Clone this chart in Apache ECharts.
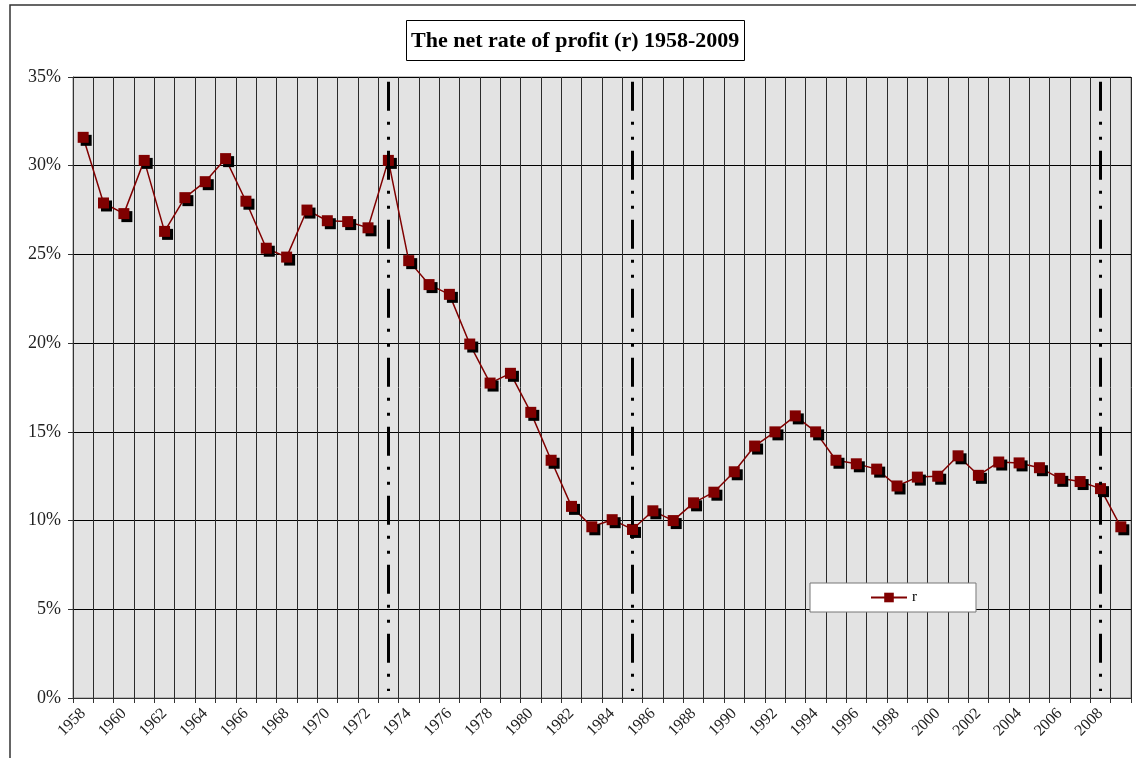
<!DOCTYPE html>
<html>
<head>
<meta charset="utf-8">
<script src="https://cdn.jsdelivr.net/npm/echarts@6/dist/echarts.min.js"></script>
<style>
  html, body { margin: 0; padding: 0; background: #fff; }
  #chart { width: 1136px; height: 758px; }
</style>
</head>
<body>
<div id="chart"></div>
<script>
// 年份
const years = [];
for (let y = 1958; y <= 2009; y++) years.push(String(y));

// 净利润率 r (%)
const rateValues = [
  31.6, 27.9, 27.3, 30.3, 26.3, 28.2, 29.1, 30.4, 28.0, 25.35,
  24.85, 27.5, 26.9, 26.85, 26.5, 30.3, 24.65, 23.3, 22.75, 19.95,
  17.75, 18.3, 16.1, 13.4, 10.8, 9.65, 10.05, 9.5, 10.55, 10.0,
  11.0, 11.6, 12.75, 14.2, 15.0, 15.9, 15.0, 13.4, 13.2, 12.9,
  11.95, 12.45, 12.5, 13.65, 12.55, 13.3, 13.25, 12.98, 12.38, 12.2,
  11.8, 9.65
];

// 竖向分隔线（危机年份）
const markYears = ['1973', '1985', '2008'];

const yTicks = [0, 5, 10, 15, 20, 25, 30, 35];

const serif = '"Liberation Serif", "DejaVu Serif", serif';

const chart = echarts.init(document.getElementById('chart'));

const option = {
  animation: false,
  backgroundColor: '#fff',
  title: {
    text: 'The net rate of profit (r) 1958-2009',
    left: 406,
    top: 20,
    padding: [10, 5, 9, 5],
    borderColor: '#000',
    borderWidth: 1,
    backgroundColor: '#fff',
    textStyle: { fontFamily: serif, fontSize: 22, fontWeight: 'bold', color: '#000' }
  },
  graphic: [{
    type: 'rect',
    shape: { x: 10, y: 5, width: 1140, height: 800 },
    style: { fill: 'none', stroke: '#333', lineWidth: 1.5 },
    silent: true
  }],
  legend: {
    data: ['r'],
    left: 810,
    top: 583,
    padding: [7, 59, 7, 60],
    itemWidth: 36,
    itemHeight: 12,
    itemGap: 4,
    backgroundColor: '#fff',
    borderColor: '#777',
    borderWidth: 1,
    textStyle: { fontFamily: serif, fontSize: 15, color: '#000' }
  },
  grid: {
    left: 73,
    right: 5,
    top: 77,
    bottom: 60,
    show: true,
    backgroundColor: '#e3e3e3',
    borderColor: '#888',
    borderWidth: 1
  },
  xAxis: {
    type: 'category',
    data: years,
    boundaryGap: true,
    axisLine: { lineStyle: { color: '#333', width: 1 } },
    axisTick: { show: true, interval: 0, length: 5, lineStyle: { color: '#333' } },
    axisLabel: {
      interval: 1,
      rotate: 45,
      margin: 13,
      fontFamily: serif,
      fontSize: 16,
      color: '#222'
    },
    splitLine: { show: true, interval: 0, lineStyle: { color: '#2a2a2a', width: 1 } }
  },
  yAxis: {
    type: 'value',
    min: yTicks[0],
    max: yTicks[yTicks.length - 1],
    interval: 5,
    axisLine: { show: true, lineStyle: { color: '#333' } },
    axisTick: { show: true, length: 5, lineStyle: { color: '#333' } },
    axisLabel: {
      formatter: '{value}%',
      margin: 12,
      fontFamily: serif,
      fontSize: 18,
      color: '#222'
    },
    splitLine: { show: true, lineStyle: { color: '#000', width: 1 } }
  },
  series: [{
    name: 'r',
    type: 'line',
    data: rateValues,
    symbol: 'rect',
    symbolSize: 11,
    lineStyle: { color: '#800000', width: 1.5 },
    itemStyle: {
      color: '#800000',
      shadowColor: '#000',
      shadowOffsetX: 3,
      shadowOffsetY: 3,
      shadowBlur: 0
    },
    markLine: {
      silent: true,
      symbol: 'none',
      label: { show: false },
      lineStyle: { color: '#000', width: 3, type: [29, 11, 3, 12, 3, 11], opacity: 1 },
      emphasis: { disabled: true },
      data: markYears.map(y => [{ coord: [y, 34.73] }, { coord: [y, 0.4] }])
    }
  }]
};

chart.setOption(option);
</script>
</body>
</html>
